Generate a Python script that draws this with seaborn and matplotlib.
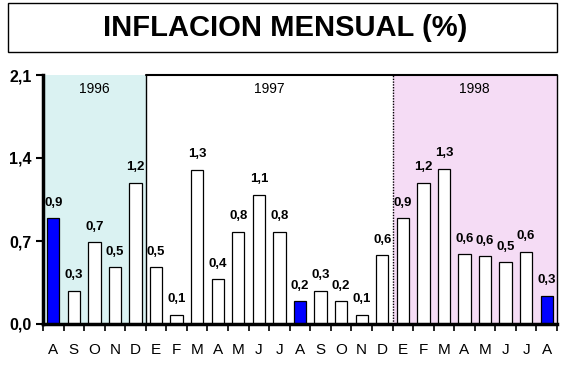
import matplotlib
matplotlib.use("Agg")
import matplotlib.pyplot as plt
import seaborn as sns
import pandas as pd
from matplotlib.patches import Rectangle

months = ["A", "S", "O", "N", "D",
          "E", "F", "M", "A", "M", "J", "J", "A", "S", "O", "N", "D",
          "E", "F", "M", "A", "M", "J", "J", "A"]
values = [0.89, 0.28, 0.69, 0.48, 1.19,
          0.48, 0.08, 1.30, 0.38, 0.78, 1.09, 0.78, 0.19, 0.28, 0.19, 0.08, 0.58,
          0.89, 1.19, 1.31, 0.59, 0.57, 0.52, 0.61, 0.24]
labels = ["0,9", "0,3", "0,7", "0,5", "1,2",
          "0,5", "0,1", "1,3", "0,4", "0,8", "1,1", "0,8", "0,2", "0,3", "0,2", "0,1", "0,6",
          "0,9", "1,2", "1,3", "0,6", "0,6", "0,5", "0,6", "0,3"]
highlight = [0, 12, 24]
years = ["1996", "1997", "1998"]
year_counts = [5, 12, 8]
yticks = [0.0, 0.7, 1.4, 2.1]
ytick_labels = ["0,0", "0,7", "1,4", "2,1"]
title = "INFLACION MENSUAL (%)"

sns.set_style("white")
plt.rcParams['font.family'] = ['Liberation Sans', 'DejaVu Sans']
plt.rcParams['text.color'] = 'black'
plt.rcParams['xtick.color'] = 'black'
plt.rcParams['ytick.color'] = 'black'
plt.rcParams['axes.labelcolor'] = 'black'

ids = [f"m{i}" for i in range(len(values))]
df = pd.DataFrame({"id": ids, "value": values})
colors = {ids[i]: ("#0000ff" if i in highlight else "#ffffff") for i in range(len(ids))}

fig = plt.figure(figsize=(5.65, 3.65), dpi=100)
fig.patch.set_facecolor("white")

# title box
fig.patches.append(Rectangle((8 / 565, 1 - 52 / 365), 549 / 565, 49 / 365,
                             transform=fig.transFigure, fill=False,
                             edgecolor="black", linewidth=1.0))
fig.text(285 / 565, 1 - 28 / 365, title, ha="center", va="center",
         fontsize=21, fontweight="bold", color="black")

ax = fig.add_axes([43 / 565, 1 - 324 / 365, 514 / 565, 249 / 365])
n = len(values)

# year background regions
start = 0
bg_colors = ["#daf2f2", "white", "#f5dcf5"]
for yr, cnt, c in zip(years, year_counts, bg_colors):
    ax.axvspan(start - 0.5, start + cnt - 0.5, color=c, zorder=0, lw=0)
    ax.text(start - 0.5 + cnt / 2, 1.98, yr, ha="center", va="center",
            fontsize=10, zorder=3, color="black")
    start += cnt
# dividers
b1 = year_counts[0] - 0.5
b2 = year_counts[0] + year_counts[1] - 0.5
ax.axvline(b1, color="black", lw=1.0, zorder=2)
ax.axvline(b2, color="black", lw=1.0, ls=(0, (1, 1)), zorder=2)

sns.barplot(data=df, x="id", y="value", hue="id", palette=colors,
            legend=False, width=0.6, edgecolor="black", linewidth=0.9,
            saturation=1, ax=ax, zorder=3)

for i, (v, lab) in enumerate(zip(values, labels)):
    ax.text(i, v + 0.13, lab, ha="center", va="center", fontsize=9.5,
            fontweight="bold", zorder=4, color="black")

ax.set_xlim(-0.5, n - 0.5)
ax.set_ylim(0, 2.1)
ax.set_xlabel("")
ax.set_ylabel("")

ax.set_yticks(yticks)
ax.set_yticklabels(ytick_labels, fontsize=11.5, fontweight="bold")
ax.tick_params(axis="y", direction="out", length=5, width=1.5, pad=3, left=True)

ax.set_xticks(range(n))
ax.set_xticklabels(months, fontsize=11)
ax.tick_params(axis="x", which="major", length=0, pad=14)
ax.set_xticks([i - 0.5 for i in range(n + 1)], minor=True)
ax.tick_params(axis="x", which="minor", direction="out", length=5, width=1.2,
               bottom=True)

for s in ["left", "bottom"]:
    ax.spines[s].set_linewidth(2.5)
    ax.spines[s].set_color("black")
    ax.spines[s].set_zorder(5)
ax.spines["right"].set_linewidth(1.0)
ax.spines["right"].set_color("black")
ax.spines["top"].set_visible(False)
ax.plot([b1, n - 0.5], [2.1, 2.1], color="black", lw=1.5, clip_on=False, zorder=5)

fig.savefig("out.png", dpi=100)
